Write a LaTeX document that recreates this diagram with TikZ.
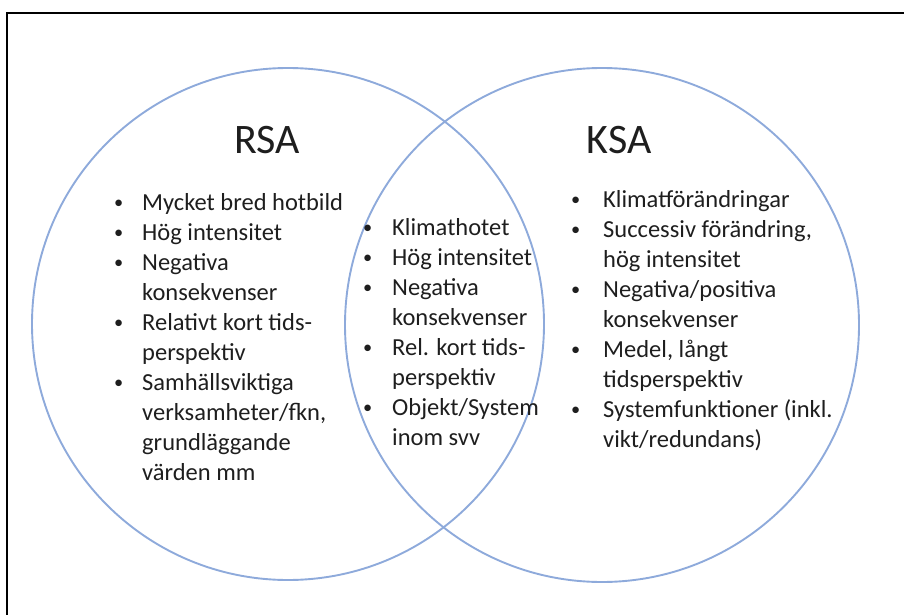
\documentclass[tikz,border=0pt]{standalone}
\usepackage{fontspec}
\setmainfont{Carlito}
\usepackage{xcolor}
\definecolor{vennblue}{HTML}{8EAADB}
\definecolor{texgra}{HTML}{1E1E1E}
\newcommand{\punkt}{\raisebox{0.1ex}{\scalebox{0.75}{\textbullet}}}
\tikzset{
  venn/.style={draw=vennblue,line width=1.9pt,circle,inner sep=0pt},
  titel/.style={font=\fontsize{42}{48}\selectfont,text=texgra,anchor=base,inner sep=0pt},
  lista/.style={font=\fontsize{24.5}{30}\selectfont,text=texgra,anchor=base west,inner sep=0pt}
}
\begin{document}
\begin{tikzpicture}[x=1pt,y=-1pt]
    \useasboundingbox (0,0) rectangle (904,615);
    \draw[line width=1.3pt] (7,620) -- (7,13) -- (910,13);
    \node[venn,minimum size=512pt] (rsa) at (288,324) {};
    \node[venn,minimum size=514pt] (ksa) at (602,325) {};
    \node[titel] (rsatitel) at (267,153) {RSA};
    \node[titel] (ksatitel) at (619,153) {KSA};
    \node[lista] (vanster) at (114,210) {\begin{tabular}[t]{@{}p{28pt}@{}l@{}}
      \punkt & Mycket bred hotbild\\
      \punkt & Hög intensitet\\
      \punkt & Negativa\\
             & konsekvenser\\
      \punkt & Relativt kort tids-\\
             & perspektiv\\
      \punkt & Samhällsviktiga\\
             & verksamheter/fkn,\\
             & grundläggande\\
             & värden mm
    \end{tabular}};
    \node[lista] (mitten) at (363,235) {\begin{tabular}[t]{@{}p{29pt}@{}l@{}}
      \punkt & Klimathotet\\
      \punkt & Hög intensitet\\
      \punkt & Negativa\\
             & konsekvenser\\
      \punkt & Rel. kort tids-\\
             & perspektiv\\
      \punkt & Objekt/System\\
             & inom svv
    \end{tabular}};
    \node[lista] (hoger) at (571,207) {\begin{tabular}[t]{@{}p{32pt}@{}l@{}}
      \punkt & Klimatförändringar\\
      \punkt & Successiv förändring,\\
             & hög intensitet\\
      \punkt & Negativa/positiva\\
             & konsekvenser\\
      \punkt & Medel, långt\\
             & tidsperspektiv\\
      \punkt & Systemfunktioner (inkl.\\
             & vikt/redundans)
    \end{tabular}};
  \end{tikzpicture}
\end{document}
